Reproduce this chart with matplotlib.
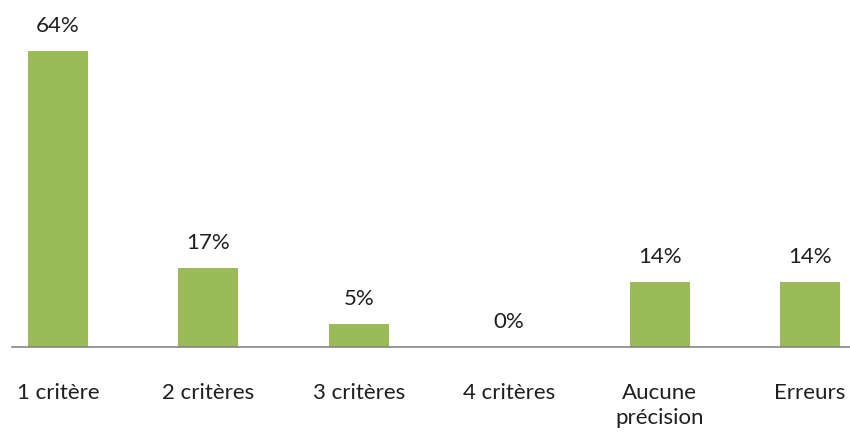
import matplotlib
matplotlib.use('Agg')
import matplotlib.pyplot as plt

categories = ["1 critère", "2 critères", "3 critères", "4 critères", "Aucune\nprécision", "Erreurs"]
values = [64, 17, 5, 0, 14, 14]
labels = ["64%", "17%", "5%", "0%", "14%", "14%"]

plt.rcParams['font.family'] = ['Lato', 'DejaVu Sans']

fig = plt.figure(figsize=(8.5, 4.39), dpi=100)
ax = fig.add_axes([12 / 850, 91 / 439, 838 / 850, 348 / 439])

x = list(range(len(categories)))
ax.bar(x, values, width=0.4, color='#9BBB59')

for xi, v, lab in zip(x, values, labels):
    ax.annotate(lab, (xi, v), xytext=(0, 11.5), textcoords='offset points',
                ha='center', va='bottom', fontsize=16, color='#1f1f1f')

ax.set_xlim(-0.306, 5.266)
ax.set_ylim(0, 75.2)
ax.set_yticks([])
ax.set_xticks(x)
ax.set_xticklabels(categories, fontsize=16, color='#1f1f1f', linespacing=1.35)
ax.tick_params(axis='x', length=0, pad=25)
for s in ['top', 'right', 'left']:
    ax.spines[s].set_visible(False)
ax.spines['bottom'].set_color('#868686')
ax.spines['bottom'].set_linewidth(1.2)
ax.patch.set_alpha(0)

fig.savefig('out.png', dpi=100)
